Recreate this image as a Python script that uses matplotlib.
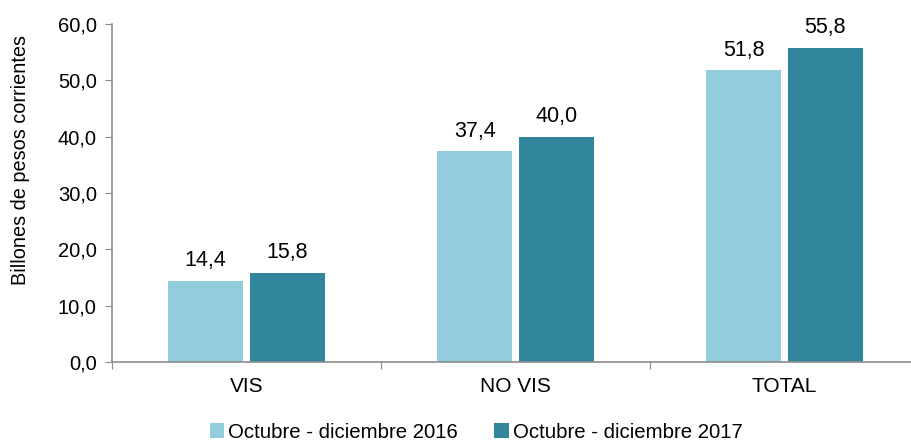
import numpy as np
import matplotlib.pyplot as plt
from matplotlib.ticker import FixedLocator, FuncFormatter, NullFormatter

plt.rcParams['font.family'] = ['Liberation Sans', 'DejaVu Sans']

categories = ["VIS", "NO VIS", "TOTAL"]
series_names = ["Octubre - diciembre 2016", "Octubre - diciembre 2017"]
values_2016 = [14.4, 37.4, 51.8]
values_2017 = [15.8, 40.0, 55.8]

colors = ["#93CDDD", "#31859C"]
spine_col = "#8C8C8C"

fig = plt.figure(figsize=(9.11, 4.41), dpi=100)
ax = fig.add_axes([112/911, 1 - 362/441, (919 - 112)/911, (362 - 24)/441])

x = np.arange(len(categories))
w = 0.279
off = 0.152
for vals, dx, col, name in [(values_2016, -off, colors[0], series_names[0]),
                            (values_2017, off, colors[1], series_names[1])]:
    bars = ax.bar(x + dx, vals, w, color=col, label=name)
    for b, v in zip(bars, vals):
        ax.text(b.get_x() + b.get_width()/2, v + 1.7, f"{v:.1f}".replace(".", ","),
                ha="center", va="bottom", fontsize=15.5)

ax.set_xlim(-0.5, 2.5)
ax.set_ylim(0, 60)
ax.set_yticks(np.arange(0, 61, 10))
ax.yaxis.set_major_formatter(FuncFormatter(lambda v, p: f"{v:.1f}".replace(".", ",")))
ax.xaxis.set_major_locator(FixedLocator([-0.5, 0.5, 1.5, 2.5]))
ax.xaxis.set_major_formatter(NullFormatter())
ax.xaxis.set_minor_locator(FixedLocator(x))
ax.set_xticks(x, categories, minor=True)
ax.tick_params(axis="x", which="minor", length=0, labelsize=15, pad=11)
ax.tick_params(axis="x", which="major", length=5, color=spine_col)
ax.tick_params(axis="y", length=5, color=spine_col, labelsize=14.5, pad=6)

for s in ["top", "right"]:
    ax.spines[s].set_visible(False)
for s in ["left", "bottom"]:
    ax.spines[s].set_color(spine_col)
    ax.spines[s].set_linewidth(1.2)

ax.set_ylabel("Billones de pesos corrientes", fontsize=14.3)
ax.yaxis.set_label_coords(-0.101, 0.598)

fig.legend(loc="center", bbox_to_anchor=(476/911, 1 - 432/441), ncol=2, frameon=False,
           fontsize=14.7, handlelength=0.7, handleheight=0.7, handletextpad=0.2,
           columnspacing=1.8)

fig.savefig("out.png", dpi=100)
